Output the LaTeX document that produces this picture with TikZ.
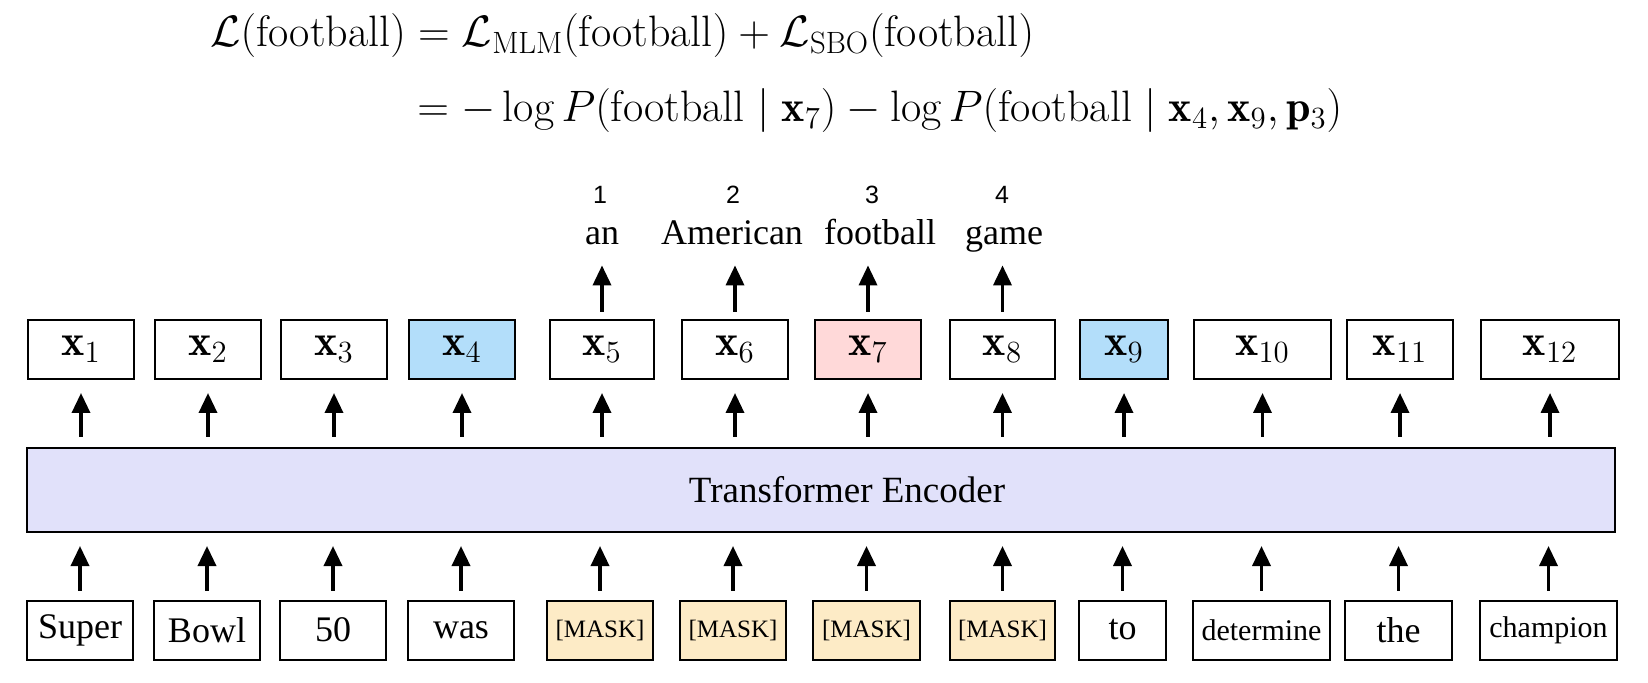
\documentclass[tikz,border=0pt]{standalone}
\usepackage{fix-cm}
\usepackage{amsmath}
\usepackage{fontspec}
\newfontfamily\wordfont{Liberation Serif}
\newfontfamily\numfont{Liberation Sans}
\usetikzlibrary{arrows.meta}
\definecolor{encfill}{RGB}{225,225,250}
\definecolor{bluefill}{RGB}{179,222,250}
\definecolor{pinkfill}{RGB}{255,217,217}
\definecolor{maskfill}{RGB}{253,235,198}
\begin{document}
\begin{tikzpicture}[x=0.5pt,y=-0.5pt,
  box/.style={draw=black, line width=1pt, inner sep=0pt, minimum height=29.5pt},
  xbox/.style={box, font=\fontsize{22}{24}\selectfont},
  tok/.style={box, font=\wordfont\fontsize{18}{20}\selectfont},
  smalltok/.style={box, font=\wordfont\fontsize{15}{17}\selectfont},
  masktok/.style={box, fill=maskfill, font=\wordfont\fontsize{12.5}{14}\selectfont},
  word/.style={font=\wordfont\fontsize{18}{20}\selectfont, inner sep=0pt, anchor=base, text depth=0pt},
  num/.style={font=\numfont\fontsize{12.5}{14}\selectfont, inner sep=0pt, anchor=base},
  eqline/.style={anchor=base west, inner sep=0pt, font=\fontsize{22}{26}\selectfont},
  arr/.style={line width=1.75pt, -{Triangle[length=10pt,width=9pt]}},
 ]
\useasboundingbox (0,0) rectangle (1648,683);

% formula
\node[eqline] (eq1) at (210,47)
  {$\mathcal{L}(\text{football}) = \mathcal{L}_{\mathrm{MLM}}(\text{football}) + \mathcal{L}_{\mathrm{SBO}}(\text{football})$};
\node[eqline] (eq2) at (417,122)
  {$= -\log P(\text{football} \mid \mathbf{x}_7) - \log P(\text{football} \mid \mathbf{x}_4, \mathbf{x}_9, \mathbf{p}_3)$};

% encoder
\node[draw=black, line width=1pt, fill=encfill, minimum width=794pt, minimum height=42pt, inner sep=0pt] (enc) at (821,490) {};
\node[font=\wordfont\fontsize{18.5}{20}\selectfont, inner sep=0pt] (enclabel) at (847,490) {Transformer Encoder};

% output boxes
\node[xbox, minimum width=53pt] (x1) at (81,349.5) {$\mathbf{x}_{1}$};
\node[xbox, minimum width=53pt] (x2) at (208,349.5) {$\mathbf{x}_{2}$};
\node[xbox, minimum width=53pt] (x3) at (334,349.5) {$\mathbf{x}_{3}$};
\node[xbox, minimum width=53pt, fill=bluefill] (x4) at (462,349.5) {$\mathbf{x}_{4}$};
\node[xbox, minimum width=52pt] (x5) at (602,349.5) {$\mathbf{x}_{5}$};
\node[xbox, minimum width=53pt] (x6) at (735,349.5) {$\mathbf{x}_{6}$};
\node[xbox, minimum width=53pt, fill=pinkfill] (x7) at (868,349.5) {$\mathbf{x}_{7}$};
\node[xbox, minimum width=52.5pt] (x8) at (1002.5,349.5) {$\mathbf{x}_{8}$};
\node[xbox, minimum width=44pt, fill=bluefill] (x9) at (1124,349.5) {$\mathbf{x}_{9}$};
\node[xbox, minimum width=68.5pt] (x10) at (1262.5,349.5) {$\mathbf{x}_{10}$};
\node[xbox, minimum width=53pt] (x11) at (1400,349.5) {$\mathbf{x}_{11}$};
\node[xbox, minimum width=69pt] (x12) at (1550,349.5) {$\mathbf{x}_{12}$};

% input boxes
\node[tok, minimum width=53pt] (b1) at (80,630) {Super};
\node[tok, minimum width=53pt] (b2) at (207,630) {Bowl};
\node[tok, minimum width=53pt] (b3) at (333,630) {50};
\node[tok, minimum width=53pt] (b4) at (461,630) {was};
\node[masktok, minimum width=53pt] (b5) at (600,630) {[MASK]};
\node[masktok, minimum width=53pt] (b6) at (733,630) {[MASK]};
\node[masktok, minimum width=53.5pt] (b7) at (866.5,630) {[MASK]};
\node[masktok, minimum width=52.5pt] (b8) at (1002.5,630) {[MASK]};
\node[tok, minimum width=43.5pt] (b9) at (1122.5,630) {to};
\node[smalltok, minimum width=68.5pt] (b10) at (1261.5,630) {determine};
\node[tok, minimum width=53.5pt] (b11) at (1398.5,630) {the};
\node[smalltok, minimum width=68.5pt] (b12) at (1548.5,630) {champion};

% predicted words
\node[word] (w1) at (602,245) {an};
\node[word] (w2) at (732,245) {American};
\node[word] (w3) at (880,245) {football};
\node[word] (w4) at (1004,245) {game};
\node[num] (n1) at (600,204) {1};
\node[num] (n2) at (733,204) {2};
\node[num] (n3) at (872,204) {3};
\node[num] (n4) at (1002,204) {4};

% arrows
\foreach \i in {1,...,12}{
  \draw[arr, shorten <=5pt, shorten >=6.5pt] (x\i.south |- enc.north) -- (x\i.south);
  \draw[arr, shorten <=4.5pt, shorten >=6.5pt] (b\i.north) -- (b\i.north |- enc.south);
}
\foreach \i/\w in {5/w1,6/w2,7/w3,8/w4}{
  \draw[arr, shorten <=3.5pt, shorten >=10pt] (x\i.north) -- (x\i.north |- \w.south);
}
\end{tikzpicture}
\end{document}
